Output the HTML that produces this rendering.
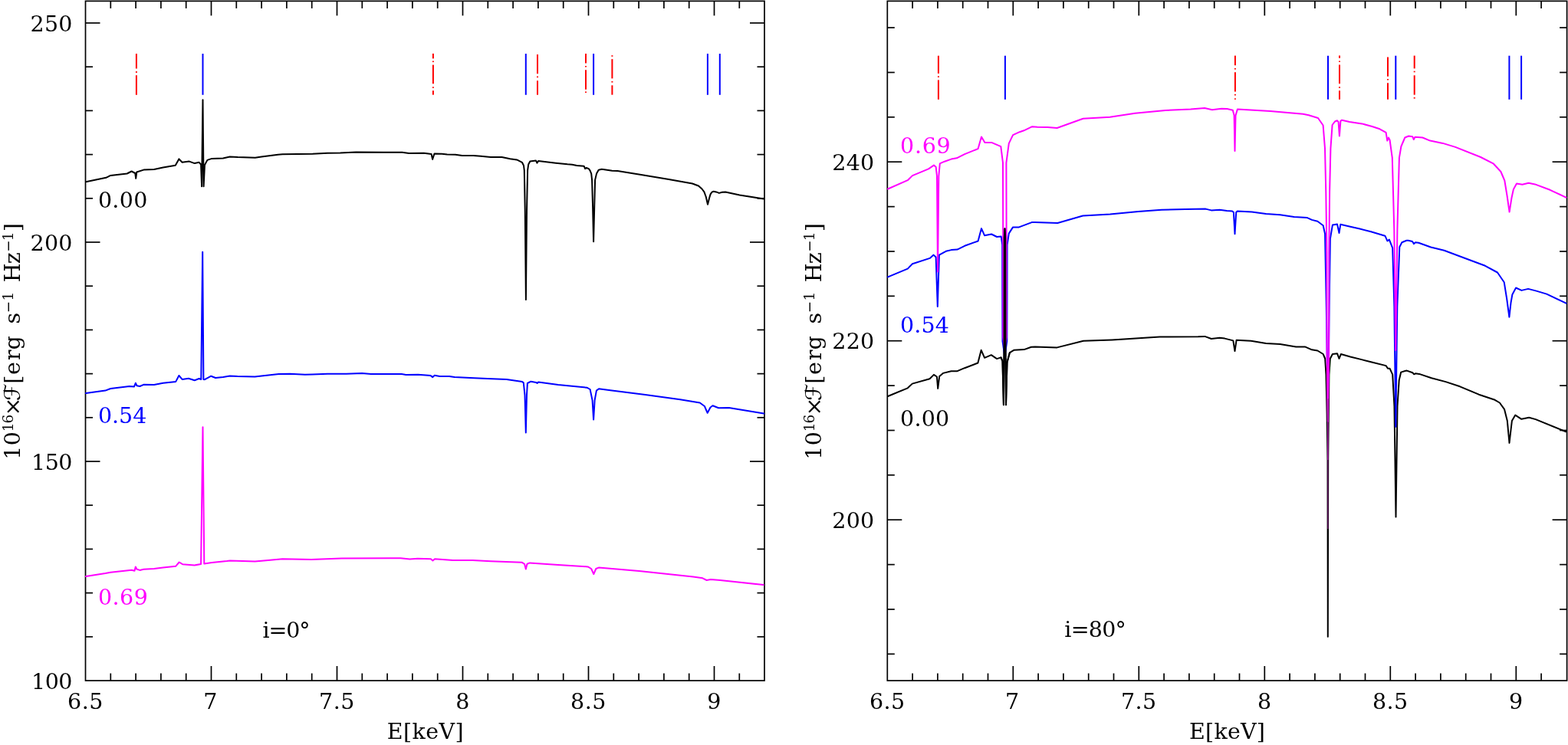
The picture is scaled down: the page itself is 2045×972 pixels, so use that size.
<!DOCTYPE html>
<html><head><meta charset="utf-8"><title>Spectra</title>
<style>html,body{margin:0;padding:0;background:#fff;overflow:hidden}svg{display:block}</style>
</head><body>
<svg width="2045" height="972" viewBox="0 0 2045 972" font-family="'DejaVu Serif','Liberation Serif',serif">
<rect width="2045" height="972" fill="#fff"/>
<rect x="111.5" y="1.4" width="885.5" height="886.6" fill="none" stroke="#000" stroke-width="1.7"/>
<line x1="144.3" y1="888" x2="144.3" y2="878.5" stroke="#000" stroke-width="1.7"/>
<line x1="144.3" y1="1.4" x2="144.3" y2="10.9" stroke="#000" stroke-width="1.7"/>
<line x1="177.1" y1="888" x2="177.1" y2="878.5" stroke="#000" stroke-width="1.7"/>
<line x1="177.1" y1="1.4" x2="177.1" y2="10.9" stroke="#000" stroke-width="1.7"/>
<line x1="209.9" y1="888" x2="209.9" y2="878.5" stroke="#000" stroke-width="1.7"/>
<line x1="209.9" y1="1.4" x2="209.9" y2="10.9" stroke="#000" stroke-width="1.7"/>
<line x1="242.7" y1="888" x2="242.7" y2="878.5" stroke="#000" stroke-width="1.7"/>
<line x1="242.7" y1="1.4" x2="242.7" y2="10.9" stroke="#000" stroke-width="1.7"/>
<line x1="275.5" y1="888" x2="275.5" y2="869" stroke="#000" stroke-width="1.7"/>
<line x1="275.5" y1="1.4" x2="275.5" y2="20.4" stroke="#000" stroke-width="1.7"/>
<line x1="308.3" y1="888" x2="308.3" y2="878.5" stroke="#000" stroke-width="1.7"/>
<line x1="308.3" y1="1.4" x2="308.3" y2="10.9" stroke="#000" stroke-width="1.7"/>
<line x1="341.1" y1="888" x2="341.1" y2="878.5" stroke="#000" stroke-width="1.7"/>
<line x1="341.1" y1="1.4" x2="341.1" y2="10.9" stroke="#000" stroke-width="1.7"/>
<line x1="373.9" y1="888" x2="373.9" y2="878.5" stroke="#000" stroke-width="1.7"/>
<line x1="373.9" y1="1.4" x2="373.9" y2="10.9" stroke="#000" stroke-width="1.7"/>
<line x1="406.7" y1="888" x2="406.7" y2="878.5" stroke="#000" stroke-width="1.7"/>
<line x1="406.7" y1="1.4" x2="406.7" y2="10.9" stroke="#000" stroke-width="1.7"/>
<line x1="439.5" y1="888" x2="439.5" y2="869" stroke="#000" stroke-width="1.7"/>
<line x1="439.5" y1="1.4" x2="439.5" y2="20.4" stroke="#000" stroke-width="1.7"/>
<line x1="472.3" y1="888" x2="472.3" y2="878.5" stroke="#000" stroke-width="1.7"/>
<line x1="472.3" y1="1.4" x2="472.3" y2="10.9" stroke="#000" stroke-width="1.7"/>
<line x1="505.1" y1="888" x2="505.1" y2="878.5" stroke="#000" stroke-width="1.7"/>
<line x1="505.1" y1="1.4" x2="505.1" y2="10.9" stroke="#000" stroke-width="1.7"/>
<line x1="537.9" y1="888" x2="537.9" y2="878.5" stroke="#000" stroke-width="1.7"/>
<line x1="537.9" y1="1.4" x2="537.9" y2="10.9" stroke="#000" stroke-width="1.7"/>
<line x1="570.7" y1="888" x2="570.7" y2="878.5" stroke="#000" stroke-width="1.7"/>
<line x1="570.7" y1="1.4" x2="570.7" y2="10.9" stroke="#000" stroke-width="1.7"/>
<line x1="603.5" y1="888" x2="603.5" y2="869" stroke="#000" stroke-width="1.7"/>
<line x1="603.5" y1="1.4" x2="603.5" y2="20.4" stroke="#000" stroke-width="1.7"/>
<line x1="636.3" y1="888" x2="636.3" y2="878.5" stroke="#000" stroke-width="1.7"/>
<line x1="636.3" y1="1.4" x2="636.3" y2="10.9" stroke="#000" stroke-width="1.7"/>
<line x1="669.1" y1="888" x2="669.1" y2="878.5" stroke="#000" stroke-width="1.7"/>
<line x1="669.1" y1="1.4" x2="669.1" y2="10.9" stroke="#000" stroke-width="1.7"/>
<line x1="701.9" y1="888" x2="701.9" y2="878.5" stroke="#000" stroke-width="1.7"/>
<line x1="701.9" y1="1.4" x2="701.9" y2="10.9" stroke="#000" stroke-width="1.7"/>
<line x1="734.7" y1="888" x2="734.7" y2="878.5" stroke="#000" stroke-width="1.7"/>
<line x1="734.7" y1="1.4" x2="734.7" y2="10.9" stroke="#000" stroke-width="1.7"/>
<line x1="767.5" y1="888" x2="767.5" y2="869" stroke="#000" stroke-width="1.7"/>
<line x1="767.5" y1="1.4" x2="767.5" y2="20.4" stroke="#000" stroke-width="1.7"/>
<line x1="800.3" y1="888" x2="800.3" y2="878.5" stroke="#000" stroke-width="1.7"/>
<line x1="800.3" y1="1.4" x2="800.3" y2="10.9" stroke="#000" stroke-width="1.7"/>
<line x1="833.1" y1="888" x2="833.1" y2="878.5" stroke="#000" stroke-width="1.7"/>
<line x1="833.1" y1="1.4" x2="833.1" y2="10.9" stroke="#000" stroke-width="1.7"/>
<line x1="865.9" y1="888" x2="865.9" y2="878.5" stroke="#000" stroke-width="1.7"/>
<line x1="865.9" y1="1.4" x2="865.9" y2="10.9" stroke="#000" stroke-width="1.7"/>
<line x1="898.7" y1="888" x2="898.7" y2="878.5" stroke="#000" stroke-width="1.7"/>
<line x1="898.7" y1="1.4" x2="898.7" y2="10.9" stroke="#000" stroke-width="1.7"/>
<line x1="931.5" y1="888" x2="931.5" y2="869" stroke="#000" stroke-width="1.7"/>
<line x1="931.5" y1="1.4" x2="931.5" y2="20.4" stroke="#000" stroke-width="1.7"/>
<line x1="964.3" y1="888" x2="964.3" y2="878.5" stroke="#000" stroke-width="1.7"/>
<line x1="964.3" y1="1.4" x2="964.3" y2="10.9" stroke="#000" stroke-width="1.7"/>
<line x1="111.5" y1="830.8" x2="121" y2="830.8" stroke="#000" stroke-width="1.7"/>
<line x1="997" y1="830.8" x2="987.5" y2="830.8" stroke="#000" stroke-width="1.7"/>
<line x1="111.5" y1="773.6" x2="121" y2="773.6" stroke="#000" stroke-width="1.7"/>
<line x1="997" y1="773.6" x2="987.5" y2="773.6" stroke="#000" stroke-width="1.7"/>
<line x1="111.5" y1="716.4" x2="121" y2="716.4" stroke="#000" stroke-width="1.7"/>
<line x1="997" y1="716.4" x2="987.5" y2="716.4" stroke="#000" stroke-width="1.7"/>
<line x1="111.5" y1="659.2" x2="121" y2="659.2" stroke="#000" stroke-width="1.7"/>
<line x1="997" y1="659.2" x2="987.5" y2="659.2" stroke="#000" stroke-width="1.7"/>
<line x1="111.5" y1="602" x2="130.5" y2="602" stroke="#000" stroke-width="1.7"/>
<line x1="997" y1="602" x2="978" y2="602" stroke="#000" stroke-width="1.7"/>
<line x1="111.5" y1="544.8" x2="121" y2="544.8" stroke="#000" stroke-width="1.7"/>
<line x1="997" y1="544.8" x2="987.5" y2="544.8" stroke="#000" stroke-width="1.7"/>
<line x1="111.5" y1="487.6" x2="121" y2="487.6" stroke="#000" stroke-width="1.7"/>
<line x1="997" y1="487.6" x2="987.5" y2="487.6" stroke="#000" stroke-width="1.7"/>
<line x1="111.5" y1="430.4" x2="121" y2="430.4" stroke="#000" stroke-width="1.7"/>
<line x1="997" y1="430.4" x2="987.5" y2="430.4" stroke="#000" stroke-width="1.7"/>
<line x1="111.5" y1="373.2" x2="121" y2="373.2" stroke="#000" stroke-width="1.7"/>
<line x1="997" y1="373.2" x2="987.5" y2="373.2" stroke="#000" stroke-width="1.7"/>
<line x1="111.5" y1="316" x2="130.5" y2="316" stroke="#000" stroke-width="1.7"/>
<line x1="997" y1="316" x2="978" y2="316" stroke="#000" stroke-width="1.7"/>
<line x1="111.5" y1="258.8" x2="121" y2="258.8" stroke="#000" stroke-width="1.7"/>
<line x1="997" y1="258.8" x2="987.5" y2="258.8" stroke="#000" stroke-width="1.7"/>
<line x1="111.5" y1="201.6" x2="121" y2="201.6" stroke="#000" stroke-width="1.7"/>
<line x1="997" y1="201.6" x2="987.5" y2="201.6" stroke="#000" stroke-width="1.7"/>
<line x1="111.5" y1="144.4" x2="121" y2="144.4" stroke="#000" stroke-width="1.7"/>
<line x1="997" y1="144.4" x2="987.5" y2="144.4" stroke="#000" stroke-width="1.7"/>
<line x1="111.5" y1="87.2" x2="121" y2="87.2" stroke="#000" stroke-width="1.7"/>
<line x1="997" y1="87.2" x2="987.5" y2="87.2" stroke="#000" stroke-width="1.7"/>
<line x1="111.5" y1="30" x2="130.5" y2="30" stroke="#000" stroke-width="1.7"/>
<line x1="997" y1="30" x2="978" y2="30" stroke="#000" stroke-width="1.7"/>
<text x="41.10" y="898.80" fill="#000" font-size="28.5" textLength="53.41" lengthAdjust="spacing">100</text>
<text x="41.10" y="612.80" fill="#000" font-size="28.5" textLength="53.41" lengthAdjust="spacing">150</text>
<text x="39.50" y="326.80" fill="#000" font-size="28.5" textLength="54.91" lengthAdjust="spacing">200</text>
<text x="39.50" y="40.80" fill="#000" font-size="28.5" textLength="54.91" lengthAdjust="spacing">250</text>
<text x="88.10" y="925.00" fill="#000" font-size="28.5" textLength="46.33" lengthAdjust="spacing">6.5</text>
<text x="265.30" y="925.00" fill="#000" font-size="28.5" >7</text>
<text x="416.10" y="925.00" fill="#000" font-size="28.5" textLength="46.33" lengthAdjust="spacing">7.5</text>
<text x="594.30" y="925.00" fill="#000" font-size="28.5" >8</text>
<text x="744.10" y="925.00" fill="#000" font-size="28.5" textLength="46.33" lengthAdjust="spacing">8.5</text>
<text x="922.30" y="925.00" fill="#000" font-size="28.5" >9</text>
<text x="504.80" y="963.95" fill="#000" font-size="28.5" textLength="99.77" lengthAdjust="spacing">E[keV]</text>
<text transform="translate(25.60,594.90) rotate(-90)" fill="#000" text-anchor="middle"><tspan x="4.31" y="0.00" font-size="28.5">1</tspan><tspan x="22.67" y="0.00" font-size="28.5">0</tspan><tspan x="37.54" y="-9.00" font-size="18.5">1</tspan><tspan x="48.18" y="-9.00" font-size="18.5">6</tspan><tspan x="64.26" y="0.00" font-size="28.5">×</tspan><tspan x="83.22" y="0.00" font-size="28.5" font-family="DejaVu Sans">ℱ</tspan><tspan x="99.68" y="0.00" font-size="28.5">[</tspan><tspan x="114.35" y="0.00" font-size="28.5">e</tspan><tspan x="131.68" y="0.00" font-size="28.5">r</tspan><tspan x="147.50" y="0.00" font-size="28.5">g</tspan><tspan x="179.63" y="0.00" font-size="28.5">s</tspan><tspan x="194.45" y="-9.00" font-size="18.5">−</tspan><tspan x="208.35" y="-9.00" font-size="18.5">1</tspan><tspan x="238.99" y="0.00" font-size="28.5">H</tspan><tspan x="258.04" y="0.00" font-size="28.5">z</tspan><tspan x="273.99" y="-9.00" font-size="18.5">−</tspan><tspan x="286.49" y="-9.00" font-size="18.5">1</tspan><tspan x="298.17" y="0.00" font-size="28.5">]</tspan></text>
<line x1="177.9" y1="70.1" x2="177.9" y2="89.5" stroke="#ff0000" stroke-width="2.0"/>
<line x1="177.9" y1="93.1" x2="177.9" y2="94.9" stroke="#ff0000" stroke-width="2.0"/>
<line x1="177.9" y1="98.2" x2="177.9" y2="123.8" stroke="#ff0000" stroke-width="2.0"/>
<line x1="564.9" y1="69.9" x2="564.9" y2="76.4" stroke="#ff0000" stroke-width="2.0"/>
<line x1="564.9" y1="79.5" x2="564.9" y2="81.1" stroke="#ff0000" stroke-width="2.0"/>
<line x1="564.9" y1="84.6" x2="564.9" y2="109.3" stroke="#ff0000" stroke-width="2.0"/>
<line x1="564.9" y1="113.3" x2="564.9" y2="114.9" stroke="#ff0000" stroke-width="2.0"/>
<line x1="564.9" y1="118.2" x2="564.9" y2="123.7" stroke="#ff0000" stroke-width="2.0"/>
<line x1="701" y1="71" x2="701" y2="96.3" stroke="#ff0000" stroke-width="2.0"/>
<line x1="701" y1="99.6" x2="701" y2="101.2" stroke="#ff0000" stroke-width="2.0"/>
<line x1="701" y1="105.2" x2="701" y2="123.7" stroke="#ff0000" stroke-width="2.0"/>
<line x1="764" y1="69.9" x2="764" y2="82.6" stroke="#ff0000" stroke-width="2.0"/>
<line x1="764" y1="85.9" x2="764" y2="87.5" stroke="#ff0000" stroke-width="2.0"/>
<line x1="764" y1="91.2" x2="764" y2="116.8" stroke="#ff0000" stroke-width="2.0"/>
<line x1="764" y1="119.4" x2="764" y2="121" stroke="#ff0000" stroke-width="2.0"/>
<line x1="798.4" y1="72.2" x2="798.4" y2="73.8" stroke="#ff0000" stroke-width="2.0"/>
<line x1="798.4" y1="77.1" x2="798.4" y2="102.4" stroke="#ff0000" stroke-width="2.0"/>
<line x1="798.4" y1="106" x2="798.4" y2="107.6" stroke="#ff0000" stroke-width="2.0"/>
<line x1="798.4" y1="111.3" x2="798.4" y2="123.7" stroke="#ff0000" stroke-width="2.0"/>
<line x1="264.5" y1="70.1" x2="264.5" y2="123.8" stroke="#0000ff" stroke-width="2.0"/>
<line x1="685.8" y1="70.1" x2="685.8" y2="123.8" stroke="#0000ff" stroke-width="2.0"/>
<line x1="774.1" y1="70.1" x2="774.1" y2="123.8" stroke="#0000ff" stroke-width="2.0"/>
<line x1="922.9" y1="70.1" x2="922.9" y2="123.8" stroke="#0000ff" stroke-width="2.0"/>
<line x1="938.8" y1="70.1" x2="938.8" y2="123.8" stroke="#0000ff" stroke-width="2.0"/>
<polyline points="112,237.2 138.4,231.8 144.2,228.9 165.7,226.5 171.6,223.5 176.3,226 177.2,232.8 178.3,224.5 187.3,221.6 201,221.1 212.7,218.6 228.8,215.7 233.4,207.4 237.6,211.8 246.9,210.6 253.8,213.1 259.6,211.8 262.1,214.7 263.1,243.3 264.5,130.2 265.6,243.3 267,215.2 270.4,208.9 276.3,206.9 290.9,206.4 299.7,204.4 310,205 332.8,205.7 341.1,204.5 362.6,201.7 368.5,201.3 407.6,200.7 427.1,199.8 443.8,199.6 464.3,198.6 500,198.8 524.5,198.8 533.3,200 552.8,199.8 562.6,201 564.1,207.9 566.5,200.5 576.3,200.7 583.1,201.5 593.9,201.7 602.7,203 617.4,203 627.1,203.8 639.9,204.9 654.5,204.9 665.3,207.2 674.1,208.4 680.9,211.8 683,216 683.8,222.4 684.8,276.4 685.9,390.9 687,276.4 688.1,222.4 689.2,214.5 691.3,210.5 698.9,209.4 700.4,212.7 702.1,209.9 724.8,212.7 740,214.3 746.2,214.7 752.3,216 761.6,216.7 763.1,220.1 764.7,218.9 767.8,220.1 769.6,222.6 771.2,226.6 772.1,234.9 773.1,270 774.1,315.3 775.2,270 776.1,234.9 778,226.6 780.7,221.7 784.8,220.7 790,221.4 798.3,222.8 805.4,223.1 836.2,227.9 872.2,233.9 903,239.5 911,242.5 915.5,246.5 918.4,250.3 920.8,257 923,266.7 925.2,258 926.6,253.4 928.5,250.6 930.7,249.8 934,250.4 937.9,251.9 942,250.8 946.1,250.5 964.6,254.4 996,259.6" fill="none" stroke="#000000" stroke-width="2.0" stroke-linejoin="round" stroke-linecap="round"/>
<polyline points="112,513 137.4,509.6 144.2,507 168.7,504 175,504.4 176.8,499.8 178.5,503.3 182.4,504 187.3,501.8 201,502.1 212.7,499.8 229.3,497.9 233.4,490 237.6,494.9 245.9,493.7 253.8,496.2 259.6,494 262.3,495 264.2,328.8 265.4,495 267,495.2 275.3,490.7 281.1,493 290.9,492 299.7,490.5 309.8,491 332.3,491.5 341.1,490.5 363.6,488.1 378.2,487.8 397.8,488.8 407.6,488.6 427.1,487.8 451.6,487.8 472.1,487.1 483.9,488.1 500,487.9 523.8,487.9 529.4,488.9 545.3,488.7 561.7,490.1 564.3,492.1 566.8,489.8 573.6,490.9 586,490.9 592.8,492.1 618.8,493.2 635.8,494 660.7,494.9 681.1,498.1 682.8,499.4 684.5,515.3 685.8,564.5 687,515.3 687.9,500 692.4,497.7 699.1,498.9 700.6,500 702.1,498.5 727.9,502 765.8,505.8 769.6,508 772.6,522.4 774.1,547.5 775.6,522.4 777.9,509.6 781,507.3 796.1,509.3 841.6,514.9 887.1,521.2 912.8,525.5 918.9,530 922.7,538.8 926.5,531.5 929.5,529.3 937.1,532.3 950.7,532 996.2,539.6" fill="none" stroke="#0000ff" stroke-width="2.0" stroke-linejoin="round" stroke-linecap="round"/>
<polyline points="112,752.1 137.4,748.1 144.2,746.7 171.6,743.7 175.5,744.7 176.8,739.5 178.5,742.8 182.4,743.9 187.3,742.8 201,742 212.7,740.6 229.3,738.7 233.7,733.5 238.1,736.2 253.8,737.4 262.1,735.9 264.5,557.3 266.3,735.4 276.3,734 295.8,732 300,731.4 332.5,732.6 349.6,730.9 368.5,729.2 406.1,729.9 445.5,728.5 522.5,728.3 534.5,729.5 544.7,728.8 561.9,729.3 564.4,731.4 567,729.2 590.9,730.9 616.6,731.1 640,732.3 680.5,733.7 684,735.8 685.8,742.5 687.5,735.8 691,734.4 728,737.1 766.7,739.4 771.1,742 774.3,749 777.3,742 780.8,740.6 833.6,745 904,752.6 916.4,754.3 921.6,757 926.9,756.1 939.2,757 995.6,763.1" fill="none" stroke="#ff00ff" stroke-width="2.0" stroke-linejoin="round" stroke-linecap="round"/>
<text x="127.90" y="271.05" fill="#000" font-size="28.5" textLength="64.47" lengthAdjust="spacing">0.00</text>
<text x="127.90" y="552.20" fill="#0000ff" font-size="28.5" textLength="63.47" lengthAdjust="spacing">0.54</text>
<text x="127.90" y="788.90" fill="#ff00ff" font-size="28.5" textLength="64.97" lengthAdjust="spacing">0.69</text>
<text x="342.50" y="831.80" fill="#000" font-size="28.5" textLength="61.89" lengthAdjust="spacing">i=0°</text>
<rect x="1157.3" y="1.4" width="886.3" height="886.6" fill="none" stroke="#000" stroke-width="1.7"/>
<line x1="1190.1" y1="888" x2="1190.1" y2="878.5" stroke="#000" stroke-width="1.7"/>
<line x1="1190.1" y1="1.4" x2="1190.1" y2="10.9" stroke="#000" stroke-width="1.7"/>
<line x1="1222.9" y1="888" x2="1222.9" y2="878.5" stroke="#000" stroke-width="1.7"/>
<line x1="1222.9" y1="1.4" x2="1222.9" y2="10.9" stroke="#000" stroke-width="1.7"/>
<line x1="1255.7" y1="888" x2="1255.7" y2="878.5" stroke="#000" stroke-width="1.7"/>
<line x1="1255.7" y1="1.4" x2="1255.7" y2="10.9" stroke="#000" stroke-width="1.7"/>
<line x1="1288.5" y1="888" x2="1288.5" y2="878.5" stroke="#000" stroke-width="1.7"/>
<line x1="1288.5" y1="1.4" x2="1288.5" y2="10.9" stroke="#000" stroke-width="1.7"/>
<line x1="1321.3" y1="888" x2="1321.3" y2="869" stroke="#000" stroke-width="1.7"/>
<line x1="1321.3" y1="1.4" x2="1321.3" y2="20.4" stroke="#000" stroke-width="1.7"/>
<line x1="1354.1" y1="888" x2="1354.1" y2="878.5" stroke="#000" stroke-width="1.7"/>
<line x1="1354.1" y1="1.4" x2="1354.1" y2="10.9" stroke="#000" stroke-width="1.7"/>
<line x1="1386.9" y1="888" x2="1386.9" y2="878.5" stroke="#000" stroke-width="1.7"/>
<line x1="1386.9" y1="1.4" x2="1386.9" y2="10.9" stroke="#000" stroke-width="1.7"/>
<line x1="1419.7" y1="888" x2="1419.7" y2="878.5" stroke="#000" stroke-width="1.7"/>
<line x1="1419.7" y1="1.4" x2="1419.7" y2="10.9" stroke="#000" stroke-width="1.7"/>
<line x1="1452.5" y1="888" x2="1452.5" y2="878.5" stroke="#000" stroke-width="1.7"/>
<line x1="1452.5" y1="1.4" x2="1452.5" y2="10.9" stroke="#000" stroke-width="1.7"/>
<line x1="1485.3" y1="888" x2="1485.3" y2="869" stroke="#000" stroke-width="1.7"/>
<line x1="1485.3" y1="1.4" x2="1485.3" y2="20.4" stroke="#000" stroke-width="1.7"/>
<line x1="1518.1" y1="888" x2="1518.1" y2="878.5" stroke="#000" stroke-width="1.7"/>
<line x1="1518.1" y1="1.4" x2="1518.1" y2="10.9" stroke="#000" stroke-width="1.7"/>
<line x1="1550.9" y1="888" x2="1550.9" y2="878.5" stroke="#000" stroke-width="1.7"/>
<line x1="1550.9" y1="1.4" x2="1550.9" y2="10.9" stroke="#000" stroke-width="1.7"/>
<line x1="1583.7" y1="888" x2="1583.7" y2="878.5" stroke="#000" stroke-width="1.7"/>
<line x1="1583.7" y1="1.4" x2="1583.7" y2="10.9" stroke="#000" stroke-width="1.7"/>
<line x1="1616.5" y1="888" x2="1616.5" y2="878.5" stroke="#000" stroke-width="1.7"/>
<line x1="1616.5" y1="1.4" x2="1616.5" y2="10.9" stroke="#000" stroke-width="1.7"/>
<line x1="1649.3" y1="888" x2="1649.3" y2="869" stroke="#000" stroke-width="1.7"/>
<line x1="1649.3" y1="1.4" x2="1649.3" y2="20.4" stroke="#000" stroke-width="1.7"/>
<line x1="1682.1" y1="888" x2="1682.1" y2="878.5" stroke="#000" stroke-width="1.7"/>
<line x1="1682.1" y1="1.4" x2="1682.1" y2="10.9" stroke="#000" stroke-width="1.7"/>
<line x1="1714.9" y1="888" x2="1714.9" y2="878.5" stroke="#000" stroke-width="1.7"/>
<line x1="1714.9" y1="1.4" x2="1714.9" y2="10.9" stroke="#000" stroke-width="1.7"/>
<line x1="1747.7" y1="888" x2="1747.7" y2="878.5" stroke="#000" stroke-width="1.7"/>
<line x1="1747.7" y1="1.4" x2="1747.7" y2="10.9" stroke="#000" stroke-width="1.7"/>
<line x1="1780.5" y1="888" x2="1780.5" y2="878.5" stroke="#000" stroke-width="1.7"/>
<line x1="1780.5" y1="1.4" x2="1780.5" y2="10.9" stroke="#000" stroke-width="1.7"/>
<line x1="1813.3" y1="888" x2="1813.3" y2="869" stroke="#000" stroke-width="1.7"/>
<line x1="1813.3" y1="1.4" x2="1813.3" y2="20.4" stroke="#000" stroke-width="1.7"/>
<line x1="1846.1" y1="888" x2="1846.1" y2="878.5" stroke="#000" stroke-width="1.7"/>
<line x1="1846.1" y1="1.4" x2="1846.1" y2="10.9" stroke="#000" stroke-width="1.7"/>
<line x1="1878.9" y1="888" x2="1878.9" y2="878.5" stroke="#000" stroke-width="1.7"/>
<line x1="1878.9" y1="1.4" x2="1878.9" y2="10.9" stroke="#000" stroke-width="1.7"/>
<line x1="1911.7" y1="888" x2="1911.7" y2="878.5" stroke="#000" stroke-width="1.7"/>
<line x1="1911.7" y1="1.4" x2="1911.7" y2="10.9" stroke="#000" stroke-width="1.7"/>
<line x1="1944.5" y1="888" x2="1944.5" y2="878.5" stroke="#000" stroke-width="1.7"/>
<line x1="1944.5" y1="1.4" x2="1944.5" y2="10.9" stroke="#000" stroke-width="1.7"/>
<line x1="1977.3" y1="888" x2="1977.3" y2="869" stroke="#000" stroke-width="1.7"/>
<line x1="1977.3" y1="1.4" x2="1977.3" y2="20.4" stroke="#000" stroke-width="1.7"/>
<line x1="2010.1" y1="888" x2="2010.1" y2="878.5" stroke="#000" stroke-width="1.7"/>
<line x1="2010.1" y1="1.4" x2="2010.1" y2="10.9" stroke="#000" stroke-width="1.7"/>
<line x1="1157.3" y1="853.3" x2="1166.8" y2="853.3" stroke="#000" stroke-width="1.7"/>
<line x1="2043.6" y1="853.3" x2="2034.1" y2="853.3" stroke="#000" stroke-width="1.7"/>
<line x1="1157.3" y1="795" x2="1166.8" y2="795" stroke="#000" stroke-width="1.7"/>
<line x1="2043.6" y1="795" x2="2034.1" y2="795" stroke="#000" stroke-width="1.7"/>
<line x1="1157.3" y1="736.6" x2="1166.8" y2="736.6" stroke="#000" stroke-width="1.7"/>
<line x1="2043.6" y1="736.6" x2="2034.1" y2="736.6" stroke="#000" stroke-width="1.7"/>
<line x1="1157.3" y1="678.2" x2="1176.3" y2="678.2" stroke="#000" stroke-width="1.7"/>
<line x1="2043.6" y1="678.2" x2="2024.6" y2="678.2" stroke="#000" stroke-width="1.7"/>
<line x1="1157.3" y1="619.8" x2="1166.8" y2="619.8" stroke="#000" stroke-width="1.7"/>
<line x1="2043.6" y1="619.8" x2="2034.1" y2="619.8" stroke="#000" stroke-width="1.7"/>
<line x1="1157.3" y1="561.5" x2="1166.8" y2="561.5" stroke="#000" stroke-width="1.7"/>
<line x1="2043.6" y1="561.5" x2="2034.1" y2="561.5" stroke="#000" stroke-width="1.7"/>
<line x1="1157.3" y1="503.1" x2="1166.8" y2="503.1" stroke="#000" stroke-width="1.7"/>
<line x1="2043.6" y1="503.1" x2="2034.1" y2="503.1" stroke="#000" stroke-width="1.7"/>
<line x1="1157.3" y1="444.7" x2="1176.3" y2="444.7" stroke="#000" stroke-width="1.7"/>
<line x1="2043.6" y1="444.7" x2="2024.6" y2="444.7" stroke="#000" stroke-width="1.7"/>
<line x1="1157.3" y1="386.3" x2="1166.8" y2="386.3" stroke="#000" stroke-width="1.7"/>
<line x1="2043.6" y1="386.3" x2="2034.1" y2="386.3" stroke="#000" stroke-width="1.7"/>
<line x1="1157.3" y1="328" x2="1166.8" y2="328" stroke="#000" stroke-width="1.7"/>
<line x1="2043.6" y1="328" x2="2034.1" y2="328" stroke="#000" stroke-width="1.7"/>
<line x1="1157.3" y1="269.6" x2="1166.8" y2="269.6" stroke="#000" stroke-width="1.7"/>
<line x1="2043.6" y1="269.6" x2="2034.1" y2="269.6" stroke="#000" stroke-width="1.7"/>
<line x1="1157.3" y1="211.2" x2="1176.3" y2="211.2" stroke="#000" stroke-width="1.7"/>
<line x1="2043.6" y1="211.2" x2="2024.6" y2="211.2" stroke="#000" stroke-width="1.7"/>
<line x1="1157.3" y1="152.8" x2="1166.8" y2="152.8" stroke="#000" stroke-width="1.7"/>
<line x1="2043.6" y1="152.8" x2="2034.1" y2="152.8" stroke="#000" stroke-width="1.7"/>
<line x1="1157.3" y1="94.5" x2="1166.8" y2="94.5" stroke="#000" stroke-width="1.7"/>
<line x1="2043.6" y1="94.5" x2="2034.1" y2="94.5" stroke="#000" stroke-width="1.7"/>
<line x1="1157.3" y1="36.1" x2="1166.8" y2="36.1" stroke="#000" stroke-width="1.7"/>
<line x1="2043.6" y1="36.1" x2="2034.1" y2="36.1" stroke="#000" stroke-width="1.7"/>
<text x="1085.30" y="689.00" fill="#000" font-size="28.5" textLength="54.91" lengthAdjust="spacing">200</text>
<text x="1085.30" y="455.00" fill="#000" font-size="28.5" textLength="54.91" lengthAdjust="spacing">220</text>
<text x="1085.30" y="222.00" fill="#000" font-size="28.5" textLength="54.91" lengthAdjust="spacing">240</text>
<text x="1133.90" y="925.00" fill="#000" font-size="28.5" textLength="46.33" lengthAdjust="spacing">6.5</text>
<text x="1311.10" y="925.00" fill="#000" font-size="28.5" >7</text>
<text x="1461.90" y="925.00" fill="#000" font-size="28.5" textLength="46.33" lengthAdjust="spacing">7.5</text>
<text x="1640.10" y="925.00" fill="#000" font-size="28.5" >8</text>
<text x="1789.90" y="925.00" fill="#000" font-size="28.5" textLength="46.33" lengthAdjust="spacing">8.5</text>
<text x="1968.10" y="925.00" fill="#000" font-size="28.5" >9</text>
<text x="1551.10" y="963.95" fill="#000" font-size="28.5" textLength="98.77" lengthAdjust="spacing">E[keV]</text>
<text transform="translate(1071.40,594.90) rotate(-90)" fill="#000" text-anchor="middle"><tspan x="4.31" y="0.00" font-size="28.5">1</tspan><tspan x="22.67" y="0.00" font-size="28.5">0</tspan><tspan x="37.54" y="-9.00" font-size="18.5">1</tspan><tspan x="48.18" y="-9.00" font-size="18.5">6</tspan><tspan x="64.26" y="0.00" font-size="28.5">×</tspan><tspan x="83.22" y="0.00" font-size="28.5" font-family="DejaVu Sans">ℱ</tspan><tspan x="99.68" y="0.00" font-size="28.5">[</tspan><tspan x="114.35" y="0.00" font-size="28.5">e</tspan><tspan x="131.68" y="0.00" font-size="28.5">r</tspan><tspan x="147.50" y="0.00" font-size="28.5">g</tspan><tspan x="179.63" y="0.00" font-size="28.5">s</tspan><tspan x="194.45" y="-9.00" font-size="18.5">−</tspan><tspan x="208.35" y="-9.00" font-size="18.5">1</tspan><tspan x="238.99" y="0.00" font-size="28.5">H</tspan><tspan x="258.04" y="0.00" font-size="28.5">z</tspan><tspan x="273.99" y="-9.00" font-size="18.5">−</tspan><tspan x="286.49" y="-9.00" font-size="18.5">1</tspan><tspan x="298.17" y="0.00" font-size="28.5">]</tspan></text>
<line x1="1223.9" y1="72.7" x2="1223.9" y2="95.9" stroke="#ff0000" stroke-width="2.0"/>
<line x1="1223.9" y1="99.3" x2="1223.9" y2="100.9" stroke="#ff0000" stroke-width="2.0"/>
<line x1="1223.9" y1="104.4" x2="1223.9" y2="129.8" stroke="#ff0000" stroke-width="2.0"/>
<line x1="1610.9" y1="72.6" x2="1610.9" y2="85.3" stroke="#ff0000" stroke-width="2.0"/>
<line x1="1610.9" y1="89" x2="1610.9" y2="90.6" stroke="#ff0000" stroke-width="2.0"/>
<line x1="1610.9" y1="94.2" x2="1610.9" y2="119.6" stroke="#ff0000" stroke-width="2.0"/>
<line x1="1610.9" y1="122.9" x2="1610.9" y2="124.5" stroke="#ff0000" stroke-width="2.0"/>
<line x1="1610.9" y1="128.3" x2="1610.9" y2="129.8" stroke="#ff0000" stroke-width="2.0"/>
<line x1="1747" y1="72.6" x2="1747" y2="75.7" stroke="#ff0000" stroke-width="2.0"/>
<line x1="1747" y1="79.5" x2="1747" y2="81.1" stroke="#ff0000" stroke-width="2.0"/>
<line x1="1747" y1="84.4" x2="1747" y2="109.3" stroke="#ff0000" stroke-width="2.0"/>
<line x1="1747" y1="113.3" x2="1747" y2="114.9" stroke="#ff0000" stroke-width="2.0"/>
<line x1="1747" y1="118.2" x2="1747" y2="129.8" stroke="#ff0000" stroke-width="2.0"/>
<line x1="1810" y1="74.4" x2="1810" y2="99.7" stroke="#ff0000" stroke-width="2.0"/>
<line x1="1810" y1="103" x2="1810" y2="104.6" stroke="#ff0000" stroke-width="2.0"/>
<line x1="1810" y1="108.2" x2="1810" y2="129.8" stroke="#ff0000" stroke-width="2.0"/>
<line x1="1844.7" y1="72.6" x2="1844.7" y2="89.4" stroke="#ff0000" stroke-width="2.0"/>
<line x1="1844.7" y1="92.7" x2="1844.7" y2="94.3" stroke="#ff0000" stroke-width="2.0"/>
<line x1="1844.7" y1="98.3" x2="1844.7" y2="123.7" stroke="#ff0000" stroke-width="2.0"/>
<line x1="1844.7" y1="127" x2="1844.7" y2="128.6" stroke="#ff0000" stroke-width="2.0"/>
<line x1="1310.9" y1="72.7" x2="1310.9" y2="129.8" stroke="#0000ff" stroke-width="2.0"/>
<line x1="1732" y1="72.7" x2="1732" y2="129.8" stroke="#0000ff" stroke-width="2.0"/>
<line x1="1820.3" y1="72.7" x2="1820.3" y2="129.8" stroke="#0000ff" stroke-width="2.0"/>
<line x1="1968.4" y1="72.7" x2="1968.4" y2="129.8" stroke="#0000ff" stroke-width="2.0"/>
<line x1="1984.1" y1="72.7" x2="1984.1" y2="129.8" stroke="#0000ff" stroke-width="2.0"/>
<polyline points="1158,517 1183.8,506.3 1189.8,500.6 1212.5,494.2 1217.9,488.9 1221.9,491.5 1223.2,506.9 1225.2,490.9 1229.9,486.9 1240.6,484.2 1248.6,484.2 1258,480.2 1275.4,473.5 1279.7,456.8 1284.1,466.8 1292.8,463.2 1300.1,468.1 1305.5,466.4 1307.5,471.5 1308.9,528.3 1309.5,460 1309.7,310 1310.5,298.2 1311.3,310 1311.5,460 1312,528.3 1313.5,472.8 1316.9,460.1 1322.2,456.8 1335.6,456.1 1345,452.7 1350,452.4 1378.7,453.4 1413,444.8 1450.2,443.5 1466.1,442.6 1496.7,440.5 1512.6,439.6 1562.7,439.3 1571.3,438.9 1579.8,442 1590.8,440.8 1597.3,441.6 1608.3,444.4 1610.5,458.1 1612.6,443.7 1631.6,444.7 1651.1,448.1 1669.5,449 1690.2,452.6 1702.5,452.6 1711,456.3 1718.4,457.5 1725.7,462 1728.2,468 1729.5,489 1730.6,538.8 1731.5,599.7 1731.8,830.7 1732.2,599.7 1732.8,539 1733.4,489 1734.8,468 1737.9,462 1744,461.2 1746.5,467.9 1748.9,462 1761.1,465.5 1775.8,469.1 1788,472.2 1807.6,477.1 1810,480.7 1812.5,480.7 1816.2,488.7 1818.5,530 1820.5,674.6 1822.5,530 1824.7,496 1827.2,485.6 1833.3,483.8 1834.9,483.6 1842.3,486.3 1844.2,488.3 1846,487.3 1851,487.9 1867,493.2 1885.5,498.1 1904.1,504.3 1928.7,514.7 1949.7,521.8 1955.9,525.5 1962.1,534.2 1965.8,549 1968.5,578 1971.9,549 1976.3,541.6 1984.3,546.8 1994.2,544.7 2002.8,547.1 2042.3,563.2" fill="none" stroke="#000000" stroke-width="2.0" stroke-linejoin="round" stroke-linecap="round"/>
<polyline points="1158,361.4 1183.8,350.6 1190,344.3 1212.7,336.9 1217.6,332.6 1220.6,335.5 1222.8,399.9 1224.9,332.6 1233.7,327.8 1240.7,326.1 1248.5,325.6 1258.1,320.8 1275.6,314.5 1280,298.1 1284,307.2 1293.1,305.5 1300.1,309 1305.7,308.6 1307.2,319.4 1307.3,380 1307.5,445 1310.4,465 1313.3,445 1313.5,380 1313.6,319.4 1315.8,304.6 1321.1,296.4 1329,296.4 1345.6,290.1 1350,290.1 1379.3,291 1412.3,281.5 1447.8,279.6 1484.5,275.9 1515,273.8 1545.6,272.9 1572.5,272.6 1579.8,274.4 1590.8,273.8 1600,275.1 1607.1,275.6 1608.9,277.1 1610.5,305.2 1612.2,277.1 1613.8,275.6 1632.8,276.5 1651.1,278.9 1669.5,280.2 1687.8,282.9 1704.9,284.1 1711,286.9 1718.4,288.7 1725.7,294.2 1728.1,305.2 1729.8,400 1730.8,470 1731.8,520 1732.8,470 1733.6,400 1734.9,311.3 1737.9,293.6 1744,292.4 1746.5,304 1748.3,292.8 1761.1,295.7 1773.4,298.5 1788,302.2 1806.4,307.7 1809.4,314.4 1811.9,312.6 1816.2,323.6 1818.4,400 1820.3,556.7 1822.3,400 1825.3,322.3 1828.4,316.2 1834.5,313.8 1836.7,313.8 1842,315 1844,318.1 1846,316.3 1850.1,316.7 1866.1,322.5 1883.5,326.7 1910.2,336.8 1937,346.8 1953,355.5 1961.7,368.2 1965.2,390 1968.4,413.7 1970.5,395 1972.4,384.2 1977.1,375.5 1984.4,378.9 1993.1,376.9 2003.8,379.6 2017.2,383.6 2042.5,395.6" fill="none" stroke="#0000ff" stroke-width="2.0" stroke-linejoin="round" stroke-linecap="round"/>
<polyline points="1158,246.5 1183.8,235.2 1190,229.1 1211,220.3 1217.9,215.6 1220.6,217.7 1222,229.9 1223,354.4 1224.3,229.9 1225.8,213.3 1231.9,210.7 1240.7,207.6 1247.7,206.3 1258.1,201.1 1275.6,194.1 1280,178.4 1284.4,185.9 1293.1,185.9 1305.3,191.1 1308,212.4 1308.2,300 1308.3,440 1310.4,456 1312.6,440 1312.6,300 1312.4,212.4 1315.8,187.1 1321.1,176.1 1329.8,172.2 1335.4,170.3 1346.2,165.2 1352.9,165.8 1366.3,166 1378.6,167 1412.6,154.7 1447.6,152.8 1480.5,147.7 1520,143.9 1552.8,142.6 1571.1,141 1580.9,143.2 1593.1,141.8 1600.5,142 1607.8,143.8 1609.6,150.6 1610.5,197 1611.5,150.6 1613.9,142.6 1631,143.5 1656.7,145.1 1699.5,148.7 1706.8,150.3 1719,154 1725.6,163.5 1728,193.7 1729.3,251 1730.4,330 1730.6,460 1731.3,520 1731.8,550 1732.3,520 1733.2,460 1733.3,330 1734.1,251 1735.4,193.7 1737.6,163 1741,158.5 1744.1,157.3 1745.6,159.1 1746.9,177.5 1748.4,157.9 1750.2,156.7 1760,158.9 1776.3,161.4 1789.5,165 1799.4,168.3 1807.6,172.9 1809.3,183.6 1810.9,179.5 1812.6,182.8 1815.8,205.8 1818.3,299.7 1820.3,457 1822.4,299.7 1824.9,205.8 1827.4,191 1832.3,179.5 1837.2,177.5 1842.2,178.2 1843.8,182 1845.5,178.7 1855.3,179.5 1865.2,183.6 1881.7,186.9 1898.1,191.9 1931.1,205 1947.5,213.3 1957.4,224 1962.3,235.5 1965.5,255 1968.6,276.6 1971.5,258 1973.9,247 1978,239.6 1985.4,240.7 1993.6,238.8 2001.9,240.4 2021.6,247.8 2042.5,257.7" fill="none" stroke="#ff00ff" stroke-width="2.0" stroke-linejoin="round" stroke-linecap="round"/>
<line x1="1731.8" y1="520" x2="1731.8" y2="600" stroke="#b020b0" stroke-width="1.5"/><line x1="1731.8" y1="600" x2="1731.8" y2="690" stroke="#601060" stroke-width="1.4"/>
<polyline points="1305.5,466.4 1307.5,471.5 1308.9,528.3 1309.5,460 1309.7,310 1310.5,298.2 1311.3,310 1311.5,460 1312,528.3 1313.5,472.8 1316.9,460.1" fill="none" stroke="#000000" stroke-width="2.0" stroke-linejoin="round" stroke-linecap="round"/>
<text x="1174.10" y="200.35" fill="#ff00ff" font-size="28.5" textLength="65.47" lengthAdjust="spacing">0.69</text>
<text x="1173.90" y="434.35" fill="#0000ff" font-size="28.5" textLength="63.97" lengthAdjust="spacing">0.54</text>
<text x="1174.10" y="556.00" fill="#000" font-size="28.5" textLength="63.97" lengthAdjust="spacing">0.00</text>
<text x="1388.30" y="831.30" fill="#000" font-size="28.5" textLength="80.52" lengthAdjust="spacing">i=80°</text>
</svg>
</body></html>
